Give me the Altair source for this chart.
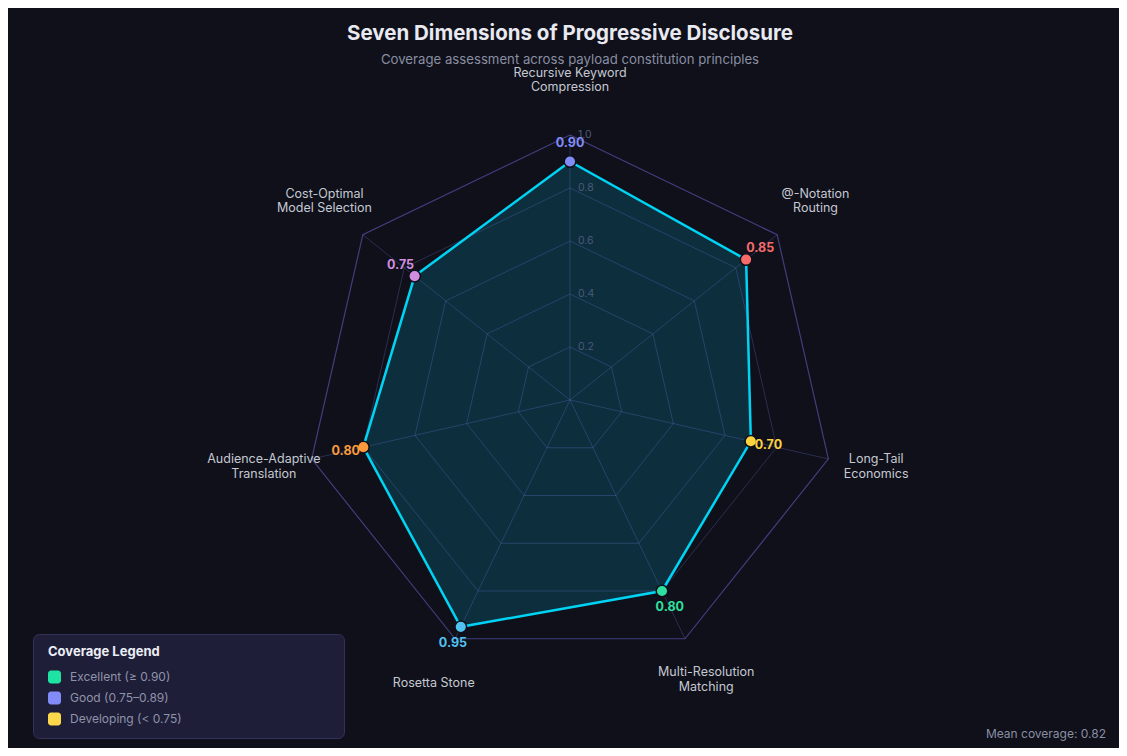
import math
import altair as alt
import pandas as pd

# ---------------- data ----------------
categories = [
    "Recursive Keyword\nCompression",
    "@-Notation\nRouting",
    "Long-Tail\nEconomics",
    "Multi-Resolution\nMatching",
    "Rosetta Stone",
    "Audience-Adaptive\nTranslation",
    "Cost-Optimal\nModel Selection",
]
values = [0.90, 0.85, 0.70, 0.80, 0.95, 0.80, 0.75]
point_colors = ["#828cf8", "#f76b6b", "#fcd23f", "#2ee0a0", "#52c2f2", "#fb9a3c", "#d18ee0"]
ring_levels = [0.2, 0.4, 0.6, 0.8, 1.0]
ring_labels = ["0.2", "0.4", "0.6", "0.8", "1.0"]
legend_names = ["Excellent (≥ 0.90)", "Good (0.75–0.89)", "Developing (< 0.75)"]
legend_colors = ["#1ee3a3", "#828cf8", "#fdd84a"]

TITLE = "Seven Dimensions of Progressive Disclosure"
SUBTITLE = "Coverage assessment across payload constitution principles"

BG = "#0f1019"
FONT = "Inter"

# ---------------- geometry helpers ----------------
N = len(categories)
W, H = 1111, 740
CX, CY, R = 562, 392, 265  # centre & unit radius in view pixels (layout only)


def ang(i):
    return 2 * math.pi * i / N


def px(r, i):
    return r * math.sin(ang(i))


def py(r, i):
    return r * math.cos(ang(i))


xscale = alt.Scale(domain=[-CX / R, (W - CX) / R], nice=False, zero=False)
yscale = alt.Scale(domain=[-(H - CY) / R, CY / R], nice=False, zero=False)
X = lambda f: alt.X(f, type="quantitative", scale=xscale, axis=None)
Y = lambda f: alt.Y(f, type="quantitative", scale=yscale, axis=None)

# polygon data
poly = pd.DataFrame(
    [{"o": k, "x": px(values[k % N], k % N), "y": py(values[k % N], k % N)} for k in range(N + 1)]
)

# rings
ring_rows = []
for lv in ring_levels:
    for k in range(N + 1):
        ring_rows.append({"lv": lv, "o": k, "x": px(lv, k % N), "y": py(lv, k % N),
                          "outer": lv == 1.0})
rings = pd.DataFrame(ring_rows)

spokes = pd.DataFrame([{"x": 0.0, "y": 0.0, "x2": px(1, i), "y2": py(1, i)} for i in range(N)])

pts = pd.DataFrame({
    "x": [px(v, i) for i, v in enumerate(values)],
    "y": [py(v, i) for i, v in enumerate(values)],
    "lx": [px(v + 0.068, i) for i, v in enumerate(values)],
    "ly": [py(v + 0.068, i) for i, v in enumerate(values)],
    "val": [f"{v:.2f}" for v in values],
    "color": point_colors,
})

lab_rows = []
for i, c in enumerate(categories):
    parts = c.split("\n")
    rr = 1.185 if i != 0 else 1.195
    for j, p in enumerate(parts):
        lab_rows.append({"x": px(rr, i), "y": py(rr, i), "t": p, "n": len(parts), "j": j})
labels = pd.DataFrame(lab_rows)

ringlab = pd.DataFrame({"x": [0.0] * len(ring_levels), "y": ring_levels, "t": ring_labels})

mean_cov = sum(values) / len(values)

# ---------------- layers ----------------
fill = alt.Chart(poly).mark_line(
    fill="#00b8e6", fillOpacity=0.18, strokeOpacity=0
).encode(x=X("x"), y=Y("y"), order="o:O")

inner_rings = alt.Chart(rings[rings["outer"] == False]).mark_line(
    color="#6470c8", strokeOpacity=0.32, strokeWidth=1
).encode(x=X("x"), y=Y("y"), detail="lv:N", order="o:O")

outer_ring = alt.Chart(rings[rings["outer"] == True]).mark_line(
    color="#4a4590", strokeOpacity=0.85, strokeWidth=1.2
).encode(x=X("x"), y=Y("y"), order="o:O")

spoke = alt.Chart(spokes).mark_rule(
    color="#6470c8", strokeOpacity=0.32, strokeWidth=1
).encode(x=X("x"), y=Y("y"), x2="x2", y2="y2")

ring_text = alt.Chart(ringlab).mark_text(
    align="left", baseline="middle", dx=8, font=FONT, fontSize=10.5, color="#4e5878"
).encode(x=X("x"), y=Y("y"), text="t:N")

outline = alt.Chart(poly).mark_line(
    color="#00d4f5", strokeWidth=2.5
).encode(x=X("x"), y=Y("y"), order="o:O")

points = alt.Chart(pts).mark_point(
    filled=True, size=135, stroke=BG, strokeWidth=1.5, opacity=1
).encode(x=X("x"), y=Y("y"), fill=alt.Fill("color:N", scale=None))

val_text = alt.Chart(pts).mark_text(
    align="center", baseline="middle", font=FONT, fontSize=12.5, fontWeight="bold"
).encode(x=X("lx"), y=Y("ly"), text="val:N", color=alt.Color("color:N", scale=None))

cat_style = dict(align="center", baseline="middle", font=FONT, fontSize=12.5, color="#c5c8d3")
cat_single = alt.Chart(labels[labels["n"] == 1]).mark_text(**cat_style).encode(
    x=X("x"), y=Y("y"), text="t:N")
cat_first = alt.Chart(labels[(labels["n"] == 2) & (labels["j"] == 0)]).mark_text(
    dy=-10.5, **cat_style).encode(x=X("x"), y=Y("y"), text="t:N")
cat_second = alt.Chart(labels[(labels["n"] == 2) & (labels["j"] == 1)]).mark_text(
    dy=4, **cat_style).encode(x=X("x"), y=Y("y"), text="t:N")

# titles
title = alt.Chart(pd.DataFrame({"t": [TITLE]})).mark_text(
    align="center", baseline="middle", font=FONT, fontSize=20.5, fontWeight="bold", color="#e8e9f1"
).encode(x=alt.value(562), y=alt.value(26), text="t:N")

subtitle = alt.Chart(pd.DataFrame({"t": [SUBTITLE]})).mark_text(
    align="center", baseline="middle", font=FONT, fontSize=13.2, color="#8a8ea3"
).encode(x=alt.value(562), y=alt.value(52), text="t:N")

# legend box
leg_box = alt.Chart(pd.DataFrame({"a": [0]})).mark_rect(
    fill="#1e1e38", stroke="#33335a", strokeWidth=1, cornerRadius=6
).encode(x=alt.value(25.5), x2=alt.value(336.5), y=alt.value(626.5), y2=alt.value(730.5))

leg_title = alt.Chart(pd.DataFrame({"t": ["Coverage Legend"]})).mark_text(
    align="left", baseline="middle", font=FONT, fontSize=13, fontWeight="bold", color="#eceef6"
).encode(x=alt.value(40), y=alt.value(644), text="t:N")

mean_text = alt.Chart(pd.DataFrame({"t": [f"Mean coverage: {mean_cov:.2f}"]})).mark_text(
    align="right", baseline="middle", font=FONT, fontSize=12, color="#8a8ea3"
).encode(x=alt.value(1098), y=alt.value(726), text="t:N")

sq_layers = []
for k, (nm, col) in enumerate(zip(legend_names, legend_colors)):
    yc = 669 + 21 * k
    sq_layers.append(
        alt.Chart(pd.DataFrame({"c": [col]})).mark_rect(cornerRadius=3).encode(
            x=alt.value(40), x2=alt.value(53), y=alt.value(yc - 6.5), y2=alt.value(yc + 6.5),
            fill=alt.Fill("c:N", scale=None))
    )
    sq_layers.append(
        alt.Chart(pd.DataFrame({"t": [nm]})).mark_text(
            align="left", baseline="middle", font=FONT, fontSize=12, color="#8f93a8"
        ).encode(x=alt.value(62), y=alt.value(yc), text="t:N")
    )

chart = alt.layer(
    fill, inner_rings, outer_ring, spoke, ring_text, outline, points, val_text,
    cat_single, cat_first, cat_second,
    title, subtitle, leg_box, leg_title, mean_text, *sq_layers,
).properties(
    width=W, height=H, padding=0, background=BG,
    autosize=alt.AutoSizeParams(type="fit", contains="padding"),
).configure_view(stroke=None)

chart.save("out.html", embed_options={"renderer": "svg", "actions": False})
